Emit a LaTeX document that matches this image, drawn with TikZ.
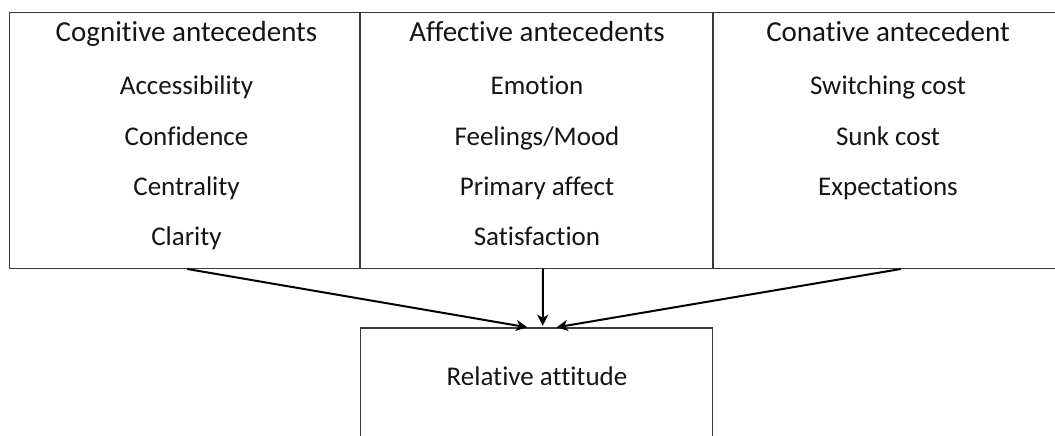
\documentclass[tikz,border=0pt]{standalone}
\usepackage{fontspec}
\setmainfont{Carlito}[Ligatures={NoCommon,NoRequired,NoContextual}]
\usetikzlibrary{arrows.meta}
\definecolor{boxline}{HTML}{3A3A3A}
\definecolor{txt}{HTML}{151515}
\begin{document}
\begin{tikzpicture}[x=1pt,y=-1pt,
  frame/.style={draw=boxline,line width=1.4pt,inner sep=0pt},
  head/.style={text=txt,font=\fontsize{29}{32}\selectfont,inner sep=0pt,anchor=base},
  item/.style={text=txt,font=\fontsize{27}{30}\selectfont,inner sep=0pt,anchor=base},
  link/.style={draw=black,line width=2pt,-{Stealth[length=11pt,width=11pt,inset=3pt]}}]
\useasboundingbox (0,0) rectangle (1055,436);
\clip (0,0) rectangle (1055,436);
\fill[white] (0,0) rectangle (1055,436);
% boxes
\node[frame,minimum width=350.5pt,minimum height=255.5pt] (cog) at (185,140.5) {};
\node[frame,minimum width=353pt,minimum height=255.5pt] (aff) at (536.5,140.5) {};
\node[frame,minimum width=376pt,minimum height=255.5pt] (con) at (901,140.5) {};
\node[frame,minimum width=352pt,minimum height=120pt] (rel) at (536.7,388) {};
% column 1
\node[head] (c0) at (186.5,42) {Cognitive antecedents};
\node[item] (c1) at (186.5,95) {Accessibility};
\node[item] (c2) at (186.5,145) {Confidence};
\node[item] (c3) at (186.5,195) {Centrality};
\node[item] (c4) at (186.5,245) {Clarity};
% column 2
\node[head] (a0) at (537,42) {Affective antecedents};
\node[item] (a1) at (537,95) {Emotion};
\node[item] (a2) at (537,145) {Feelings/Mood};
\node[item] (a3) at (537,195) {Primary affect};
\node[item] (a4) at (537,245) {Satisfaction};
% column 3
\node[head] (k0) at (888,42) {Conative antecedent};
\node[item] (k1) at (888,95) {Switching cost};
\node[item] (k2) at (888,145) {Sunk cost};
\node[item] (k3) at (888,195) {Expectations};
% bottom
\node[item] (r0) at (537,385) {Relative attitude};
% arrows
\coordinate (s1) at ([xshift=2pt]cog.south);
\coordinate (s2) at ([xshift=6.5pt]aff.south);
\coordinate (s3) at (con.south);
\coordinate (e1) at ([xshift=-9.5pt]rel.north);
\coordinate (e2) at ([xshift=6pt,yshift=1.5pt]rel.north);
\coordinate (e3) at ([xshift=20pt]rel.north);
\draw[link] (s1) -- (e1);
\draw[link] (s2) -- (e2);
\draw[link] (s3) -- (e3);
\end{tikzpicture}
\end{document}
